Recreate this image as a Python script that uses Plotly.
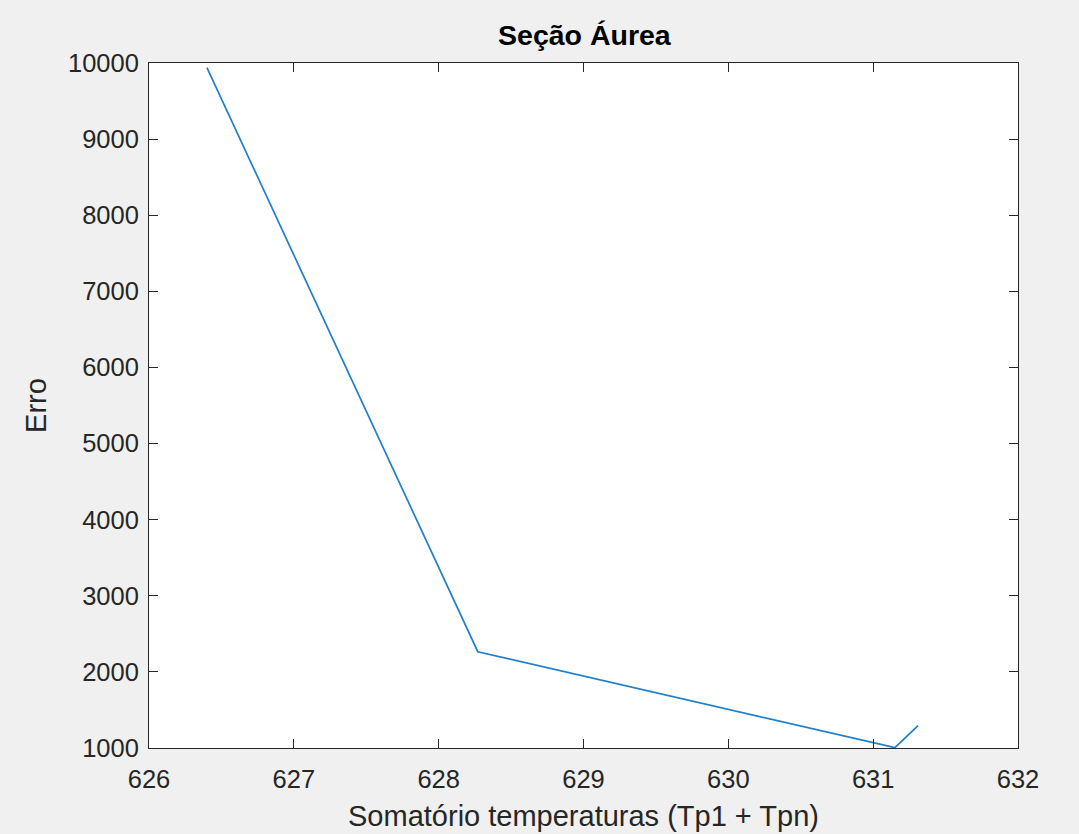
import plotly.graph_objects as go

# Golden-section search iterates: sum of temperatures vs. error
soma_temperaturas = [626.40, 628.27, 631.15, 631.31]
erro = [9940, 2265, 1005, 1293]

x_ticks = [626, 627, 628, 629, 630, 631, 632]
y_ticks = [1000, 2000, 3000, 4000, 5000, 6000, 7000, 8000, 9000, 10000]

axis_color = "#262626"
font_family = "Liberation Sans, Arial, Helvetica, sans-serif"

fig = go.Figure()
fig.add_trace(go.Scatter(
    x=soma_temperaturas,
    y=erro,
    mode="lines",
    line=dict(color="#1f7fc8", width=1.7),
    showlegend=False,
))

common_axis = dict(
    showgrid=False,
    zeroline=False,
    showline=True,
    linecolor=axis_color,
    linewidth=1,
    mirror="ticks",
    ticks="inside",
    ticklen=9,
    tickwidth=1,
    tickcolor=axis_color,
    automargin=False,
    tickfont=dict(family=font_family, size=25.5, color=axis_color),
)

fig.update_xaxes(
    range=[626, 632],
    tickvals=x_ticks,
    ticktext=[str(v) for v in x_ticks],
    title=dict(text="Somatório temperaturas (Tp1 + Tpn)",
               font=dict(family=font_family, size=29, color=axis_color),
               standoff=14),
    ticklabelstandoff=8,
    **common_axis,
)
fig.update_yaxes(
    range=[1000, 10000],
    tickvals=y_ticks,
    ticktext=[str(v) for v in y_ticks],
    title=dict(text="Erro",
               font=dict(family=font_family, size=29, color=axis_color),
               standoff=12),
    ticklabelstandoff=4,
    **common_axis,
)

fig.update_layout(
    width=1079,
    height=834,
    margin=dict(l=149, r=61, t=63, b=86),
    paper_bgcolor="#f0f0f0",
    plot_bgcolor="#ffffff",
    title=dict(
        text="<b>Seção Áurea</b>",
        font=dict(family=font_family, size=28.5, color="#000000"),
        x=0.5416,
        xanchor="center",
        y=1 - 45 / 834,
        yanchor="bottom",
    ),
)

fig.write_html("out.html")
